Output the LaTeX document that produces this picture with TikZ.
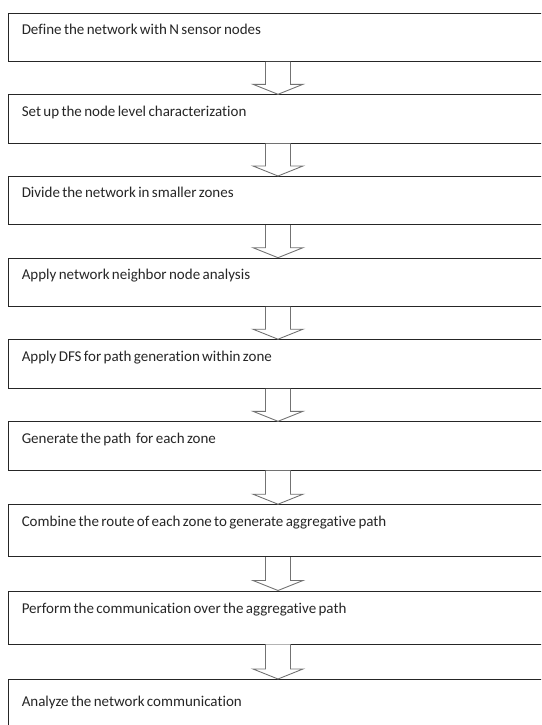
\documentclass[tikz,border=0pt]{standalone}
\usepackage{fontspec}
\setmainfont{Carlito}[WordSpace={0.7,0,0},Ligatures=NoCommon]
\usetikzlibrary{calc}
\tikzset{
  stepbox/.style={draw=black!85, line width=0.9pt, minimum width=540pt, inner sep=0pt, anchor=north, fill=white},
  lbl/.style={anchor=base west, inner sep=0pt, font=\fontsize{15}{18}\selectfont, text=black!85},
  barrow/.style={draw=black!55, line width=0.9pt, fill=white, line join=miter}
}
\newcommand{\flowarrow}[2]{%
  \draw[barrow] ($(#1.south)+(-12.5,0)$) -- ($(#2.north)+(-12.5,-10)$) -- ($(#2.north)+(-25,-10)$) -- (#2.north) -- ($(#2.north)+(25,-10)$) -- ($(#2.north)+(12.5,-10)$) -- ($(#1.south)+(12.5,0)$);}
\begin{document}
\begin{tikzpicture}[x=1pt,y=-1pt]
\useasboundingbox (0,0) rectangle (541,725);
\clip (0,0) rectangle (541,725);
\node[stepbox, minimum height=48.3pt] (b1) at (278,12.7) {};
\node[stepbox, minimum height=48.4pt] (b2) at (278,94.3) {};
\node[stepbox, minimum height=48.3pt] (b3) at (278,176) {};
\node[stepbox, minimum height=48.3pt] (b4) at (278,257.7) {};
\node[stepbox, minimum height=48.7pt] (b5) at (278,339.2) {};
\node[stepbox, minimum height=48.3pt] (b6) at (278,421.3) {};
\node[stepbox, minimum height=52pt] (b7) at (278,504.2) {};
\node[stepbox, minimum height=53pt] (b8) at (278,590.5) {};
\node[stepbox, minimum height=60pt] (b9) at (278,679) {};
\node[lbl] (t1) at ($(b1.north west)+(14,22.3)$) {Define the network with N sensor nodes};
\node[lbl] (t2) at ($(b2.north west)+(14,22.3)$) {Set up the node level characterization};
\node[lbl] (t3) at ($(b3.north west)+(14,21.7)$) {Divide the network in smaller zones};
\node[lbl] (t4) at ($(b4.north west)+(14,21.7)$) {Apply network neighbor node analysis};
\node[lbl] (t5) at ($(b5.north west)+(14,22.3)$) {Apply DFS for path generation within zone};
\node[lbl] (t6) at ($(b6.north west)+(14,21.9)$) {Generate the path\ \ for each zone};
\node[lbl] (t7) at ($(b7.north west)+(14,22)$) {Combine the route of each zone to generate aggregative path};
\node[lbl] (t8) at ($(b8.north west)+(14,22.5)$) {Perform the communication over the aggregative path};
\node[lbl] (t9) at ($(b9.north west)+(14,27)$) {Analyze the network communication};
\flowarrow{b1}{b2}
\flowarrow{b2}{b3}
\flowarrow{b3}{b4}
\flowarrow{b4}{b5}
\flowarrow{b5}{b6}
\flowarrow{b6}{b7}
\flowarrow{b7}{b8}
\flowarrow{b8}{b9}
\end{tikzpicture}
\end{document}
